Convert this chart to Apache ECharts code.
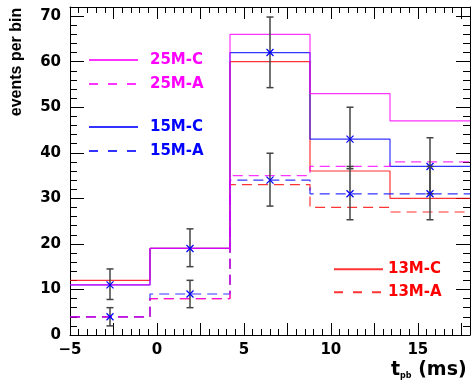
<!DOCTYPE html>
<html>
<head>
<meta charset="utf-8">
<script src="https://cdn.jsdelivr.net/npm/echarts@6/dist/echarts.min.js"></script>
<style>
html,body{margin:0;padding:0;background:#fff;}
#c{width:473px;height:381px;}
</style>
</head>
<body>
<div id="c"></div>
<script>
// bin edges (ms)
var edges = [-5, -0.4, 4.2, 8.8, 13.4, 18];
// histogram values per bin
var c25 = [11, 19, 66, 53, 47];
var a25 = [4, 8, 35, 37, 38];
var c15 = [11, 19, 62, 43, 37];
var a15 = [4, 9, 34, 31, 31];
var c13 = [12, 19, 60, 36, 30];
var a13 = [4, 8, 33, 28, 27];
// data points with error bars
var ptX = [-2.7, 1.9, 6.5, 11.1, 15.7];
var ptC = [11, 19, 62, 43, 37];
var ptCLo = [7.8, 15, 54.3, 36.5, 31];
var ptCHi = [14.5, 23.3, 69.8, 50, 43.3];
var ptA = [4, 9, 34, 31, 31];
var ptALo = [2, 6, 28.3, 25.3, 25.3];
var ptAHi = [6, 12, 39.9, 37, 37];

var MAG = '#ff00ff', BLU = '#0000ff', RED = '#ff0000';
var LBL_FONT = 'DejaVu Sans';

function stepData(vals) {
  return edges.map(function (e, i) { return [e, vals[Math.min(i, vals.length - 1)]]; });
}
function lineSeries(name, vals, color, dashed, z) {
  return {
    name: name, type: 'line', step: 'end', data: stepData(vals),
    symbol: 'none', silent: true, animation: false, z: z,
    itemStyle: { color: color },
    lineStyle: { color: color, width: 1.2, type: dashed ? [10, 6] : 'solid', opacity: 0.8 }
  };
}
var errData = [];
for (var i = 0; i < ptX.length; i++) {
  errData.push([ptX[i], ptC[i], ptCLo[i], ptCHi[i]]);
  errData.push([ptX[i], ptA[i], ptALo[i], ptAHi[i]]);
}

function fmtNum(v) {
  return v < 0 ? '\u2212' + Math.abs(v) : String(v);
}

function axisLine() {
  return { onZero: false, lineStyle: { color: '#000', width: 1 } };
}

function legendCfg(left, top, gap, pad, items) {
  return {
    left: left, top: top, orient: 'vertical', itemWidth: 49, itemHeight: 14, itemGap: gap,
    padding: 0, selectedMode: false,
    itemStyle: { opacity: 0 },
    textStyle: { fontFamily: LBL_FONT, fontWeight: 'bold', fontSize: 15, lineHeight: 14, padding: [0, 0, 0, pad] },
    data: items
  };
}
var legDash = { type: [9, 10] };

var chart = echarts.init(document.getElementById('c'), null, { renderer: 'canvas' });
chart.setOption({
  animation: false,
  backgroundColor: '#fff',
  grid: { left: 70, right: 1, top: 7, bottom: 46 },
  xAxis: [
    {
      type: 'value', min: -5, max: 18, interval: 2.5, position: 'bottom',
      axisLine: axisLine(), splitLine: { show: false },
      axisTick: { inside: true, length: 12, lineStyle: { color: '#000' } },
      minorTick: { show: true, splitNumber: 5, length: 6, lineStyle: { color: '#000' } },
      axisLabel: {
        margin: 8, color: '#000', fontFamily: LBL_FONT, fontWeight: 'bold', fontSize: 15,
        formatter: function (v) { return (Math.abs(v % 5) < 1e-9) ? fmtNum(v) : ''; }
      }
    },
    {
      type: 'value', min: -5, max: 18, interval: 2.5, position: 'top',
      axisLine: axisLine(), splitLine: { show: false },
      axisTick: { inside: true, length: 12, lineStyle: { color: '#000' } },
      minorTick: { show: true, splitNumber: 5, length: 6, lineStyle: { color: '#000' } },
      axisLabel: { show: false }
    }
  ],
  yAxis: [
    {
      type: 'value', min: 0, max: 72, interval: 10, position: 'left',
      axisLine: axisLine(), splitLine: { show: false },
      axisTick: { inside: true, length: 14, lineStyle: { color: '#000' } },
      minorTick: { show: true, splitNumber: 5, length: 7, lineStyle: { color: '#000' } },
      axisLabel: {
        margin: 9, color: '#000', fontFamily: LBL_FONT, fontWeight: 'bold', fontSize: 15,
        formatter: function (v) { return (v % 10 === 0) ? fmtNum(v) : ''; }
      }
    },
    {
      type: 'value', min: 0, max: 72, interval: 10, position: 'right',
      axisLine: axisLine(), splitLine: { show: false },
      axisTick: { inside: true, length: 14, lineStyle: { color: '#000' } },
      minorTick: { show: true, splitNumber: 5, length: 7, lineStyle: { color: '#000' } },
      axisLabel: { show: false }
    }
  ],
  legend: [
    legendCfg(88, 52.5, 9, 7, [
      { name: '25M-C', textStyle: { color: MAG } },
      { name: '25M-A', textStyle: { color: MAG }, lineStyle: legDash }
    ]),
    legendCfg(88, 119.5, 9, 7, [
      { name: '15M-C', textStyle: { color: BLU } },
      { name: '15M-A', textStyle: { color: BLU }, lineStyle: legDash }
    ]),
    legendCfg(333, 261.7, 8, 0, [
      { name: '13M-C', textStyle: { color: RED } },
      { name: '13M-A', textStyle: { color: RED }, lineStyle: legDash }
    ])
  ],
  graphic: [
    {
      type: 'text', x: 17, y: 62, rotation: Math.PI / 2,
      style: { text: 'events per bin', fontFamily: 'Liberation Sans', fontWeight: 'bold', fontSize: 16, fill: '#000',
               align: 'center', verticalAlign: 'middle' }
    },
    {
      type: 'text', x: 391, y: 361,
      style: {
        text: '{t|t}{s|pb}{t| (ms)}',
        rich: {
          t: { fontFamily: LBL_FONT, fontWeight: 'bold', fontSize: 19, lineHeight: 19, fill: '#000', verticalAlign: 'bottom' },
          s: { fontFamily: LBL_FONT, fontWeight: 'bold', fontSize: 8, lineHeight: 19, fill: '#000', verticalAlign: 'bottom' }
        }
      }
    }
  ],
  series: [
    lineSeries('13M-C', c13, RED, false, 2),
    lineSeries('13M-A', a13, RED, true, 2),
    lineSeries('15M-C', c15, BLU, false, 3),
    lineSeries('15M-A', a15, BLU, true, 3),
    lineSeries('25M-C', c25, MAG, false, 4),
    lineSeries('25M-A', a25, MAG, true, 4),
    {
      type: 'custom', silent: true, z: 10, animation: false,
      data: errData,
      encode: { x: 0, y: [1, 2, 3] },
      renderItem: function (params, api) {
        var x = api.value(0);
        var p = api.coord([x, api.value(1)]);
        var lo = api.coord([x, api.value(2)]);
        var hi = api.coord([x, api.value(3)]);
        var cw = 3.5, m = 3.5;
        var bar = { stroke: '#444', lineWidth: 1.5 };
        var mk = { stroke: BLU, lineWidth: 1.3 };
        return {
          type: 'group',
          children: [
            { type: 'line', shape: { x1: p[0], y1: hi[1], x2: p[0], y2: lo[1] }, style: bar },
            { type: 'line', shape: { x1: p[0] - cw, y1: hi[1], x2: p[0] + cw, y2: hi[1] }, style: bar },
            { type: 'line', shape: { x1: p[0] - cw, y1: lo[1], x2: p[0] + cw, y2: lo[1] }, style: bar },
            { type: 'line', shape: { x1: p[0] - m, y1: p[1] - m, x2: p[0] + m, y2: p[1] + m }, style: mk },
            { type: 'line', shape: { x1: p[0] - m, y1: p[1] + m, x2: p[0] + m, y2: p[1] - m }, style: mk }
          ]
        };
      }
    }
  ]
});
</script>
</body>
</html>
